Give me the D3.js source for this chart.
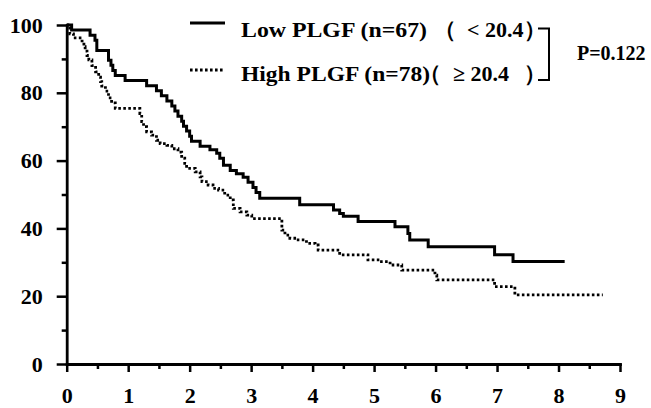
<!DOCTYPE html>
<html>
<head>
<meta charset="utf-8">
<script src="https://cdn.jsdelivr.net/npm/d3@7"></script>
<style>
  html, body { margin: 0; padding: 0; background: #fff; }
  svg { display: block; }
  text { font-family: "Liberation Serif", "Times New Roman", serif; font-weight: bold; fill: #000; }
</style>
</head>
<body>
<script>
// ---- data ----
const lowTimes = [0, 0.08, 0.38, 0.46, 0.49, 0.68, 0.72, 0.75, 0.79, 0.95, 1.30, 1.46, 1.54, 1.63, 1.71, 1.76, 1.81, 1.87, 1.90, 1.95, 2.00, 2.03, 2.17, 2.33, 2.44, 2.49, 2.55, 2.66, 2.76, 2.87, 2.95, 3.03, 3.08, 3.14, 3.79, 4.34, 4.44, 4.50, 4.74, 5.34, 5.55, 5.58, 5.88, 6.96, 7.26, 8.10];
const lowSurv  = [100, 98.5, 97.0, 95.5, 92.5, 89.6, 88.1, 86.6, 85.1, 83.6, 82.1, 80.6, 79.1, 77.6, 76.1, 74.6, 73.1, 71.6, 70.1, 68.7, 67.2, 65.7, 64.2, 63.2, 62.2, 60.7, 58.6, 57.1, 56.1, 55.1, 53.6, 52.1, 50.6, 48.9, 47.0, 45.4, 44.4, 43.6, 42.0, 40.5, 38.5, 36.6, 34.6, 32.2, 30.2, 30.2];

const highTimes = [0, 0.05, 0.11, 0.25, 0.28, 0.30, 0.33, 0.36, 0.41, 0.47, 0.52, 0.55, 0.57, 0.63, 0.68, 0.73, 0.79, 1.19, 1.22, 1.25, 1.30, 1.38, 1.46, 1.52, 1.63, 1.71, 1.81, 1.87, 1.92, 1.95, 2.09, 2.17, 2.20, 2.30, 2.38, 2.47, 2.57, 2.66, 2.71, 2.82, 2.93, 3.01, 3.50, 3.55, 3.63, 3.74, 3.90, 4.04, 4.09, 4.44, 4.90, 5.09, 5.26, 5.45, 5.99, 6.02, 6.96, 7.29, 8.72];
const highSurv  = [100, 97.4, 96.2, 94.9, 93.6, 92.3, 91.0, 89.7, 88.0, 86.2, 84.6, 83.3, 82.0, 80.5, 78.5, 77.0, 75.4, 73.9, 71.5, 70.0, 68.5, 67.5, 66.0, 65.0, 64.5, 63.5, 62.5, 60.7, 59.2, 57.7, 56.7, 55.2, 53.8, 52.8, 51.8, 51.3, 49.8, 48.4, 45.9, 44.9, 43.9, 42.9, 39.5, 38.0, 37.1, 36.6, 35.6, 35.1, 33.6, 32.2, 30.7, 30.2, 29.2, 27.7, 26.2, 24.8, 22.8, 20.4, 20.4];

const xTicks = [0, 1, 2, 3, 4, 5, 6, 7, 8, 9];
const xMinorTicks = [0.5, 1.5, 2.5, 3.5, 4.5, 5.5, 6.5, 7.5, 8.5];
const yTicks = [0, 20, 40, 60, 80, 100];
const yMinorTicks = [10, 30, 50, 70, 90];

const legendMain = ["Low PLGF (n=67)", "High PLGF (n=78)"];
const legendCut = [["（", "< 20.4", "）"], ["（", "≥ 20.4 ", "）"]];
const pText = "P=0.122";

// ---- drawing ----
const W = 651, H = 408;
const svg = d3.select("body").append("svg").attr("width", W).attr("height", H);

const x = d3.scaleLinear().domain([0, 9]).range([66.7, 620]);
const y = d3.scaleLinear().domain([0, 100]).range([364, 25]);

// minor ticks
svg.append("g").attr("transform", `translate(${x(0)},0)`)
  .call(d3.axisLeft(y).tickValues(yMinorTicks).tickSize(5).tickFormat(""))
  .call(g => g.select(".domain").remove())
  .call(g => g.selectAll("line").attr("stroke", "#000").attr("stroke-width", 2.5));
svg.append("g").attr("transform", `translate(0,${y(0)})`)
  .call(d3.axisBottom(x).tickValues(xMinorTicks).tickSize(5).tickFormat(""))
  .call(g => g.select(".domain").remove())
  .call(g => g.selectAll("line").attr("stroke", "#000").attr("stroke-width", 2.5));

// major axes
const yAxis = svg.append("g").attr("transform", `translate(${x(0)},0)`)
  .call(d3.axisLeft(y).tickValues(yTicks).tickSize(10).tickSizeOuter(0).tickPadding(14));
const xAxis = svg.append("g").attr("transform", `translate(0,${y(0)})`)
  .call(d3.axisBottom(x).tickValues(xTicks).tickSize(8).tickSizeOuter(0).tickPadding(15));

[yAxis, xAxis].forEach(g => {
  g.select(".domain").attr("stroke", "#000").attr("stroke-width", 2.8).attr("stroke-linecap", "square");
  g.selectAll(".tick line").attr("stroke", "#000").attr("stroke-width", 2.5);
  g.selectAll(".tick text").style("font-family", "'Liberation Serif', 'Times New Roman', serif")
    .style("font-weight", "bold").style("font-size", "22px").attr("fill", "#000");
});

// curves
const line = d3.line().x(d => x(d[0])).y(d => y(d[1])).curve(d3.curveStepAfter);
const lowData = lowTimes.map((t, i) => [t, lowSurv[i]]);
const highData = highTimes.map((t, i) => [t, highSurv[i]]);

svg.append("path").datum(highData).attr("d", line)
  .attr("fill", "none").attr("stroke", "#000").attr("stroke-width", 2.8)
  .attr("stroke-dasharray", "2.6 2.4");
svg.append("path").datum(lowData).attr("d", line)
  .attr("fill", "none").attr("stroke", "#000").attr("stroke-width", 3);

// legend
const leg = svg.append("g");
const rowsY = [23, 70];
const baseY = [37, 81];
leg.append("line").attr("x1", 190).attr("x2", 225).attr("y1", rowsY[0]).attr("y2", rowsY[0])
  .attr("stroke", "#000").attr("stroke-width", 3);
leg.append("line").attr("x1", 190).attr("x2", 225).attr("y1", rowsY[1]).attr("y2", rowsY[1])
  .attr("stroke", "#000").attr("stroke-width", 2.8).attr("stroke-dasharray", "2.6 2.4");

const mainLen = [186, 189];
legendMain.forEach((s, i) => {
  leg.append("text").attr("x", 241).attr("y", baseY[i]).style("font-size", "22px")
    .attr("textLength", mainLen[i]).attr("lengthAdjust", "spacingAndGlyphs").text(s);
});
const cutPos = [[434, 467, 524], [419, 453, 524]];
legendCut.forEach((parts, i) => {
  const t = leg.append("text").attr("y", baseY[i]).style("font-size", "22px");
  parts.forEach((p, j) => t.append("tspan").attr("x", cutPos[i][j]).text(p));
});

// bracket
leg.append("path").attr("d", "M538,28.5 H549 V80 H538")
  .attr("fill", "none").attr("stroke", "#000").attr("stroke-width", 2);

leg.append("text").attr("x", 577).attr("y", 60).style("font-size", "20px").text(pText);
</script>
</body>
</html>
